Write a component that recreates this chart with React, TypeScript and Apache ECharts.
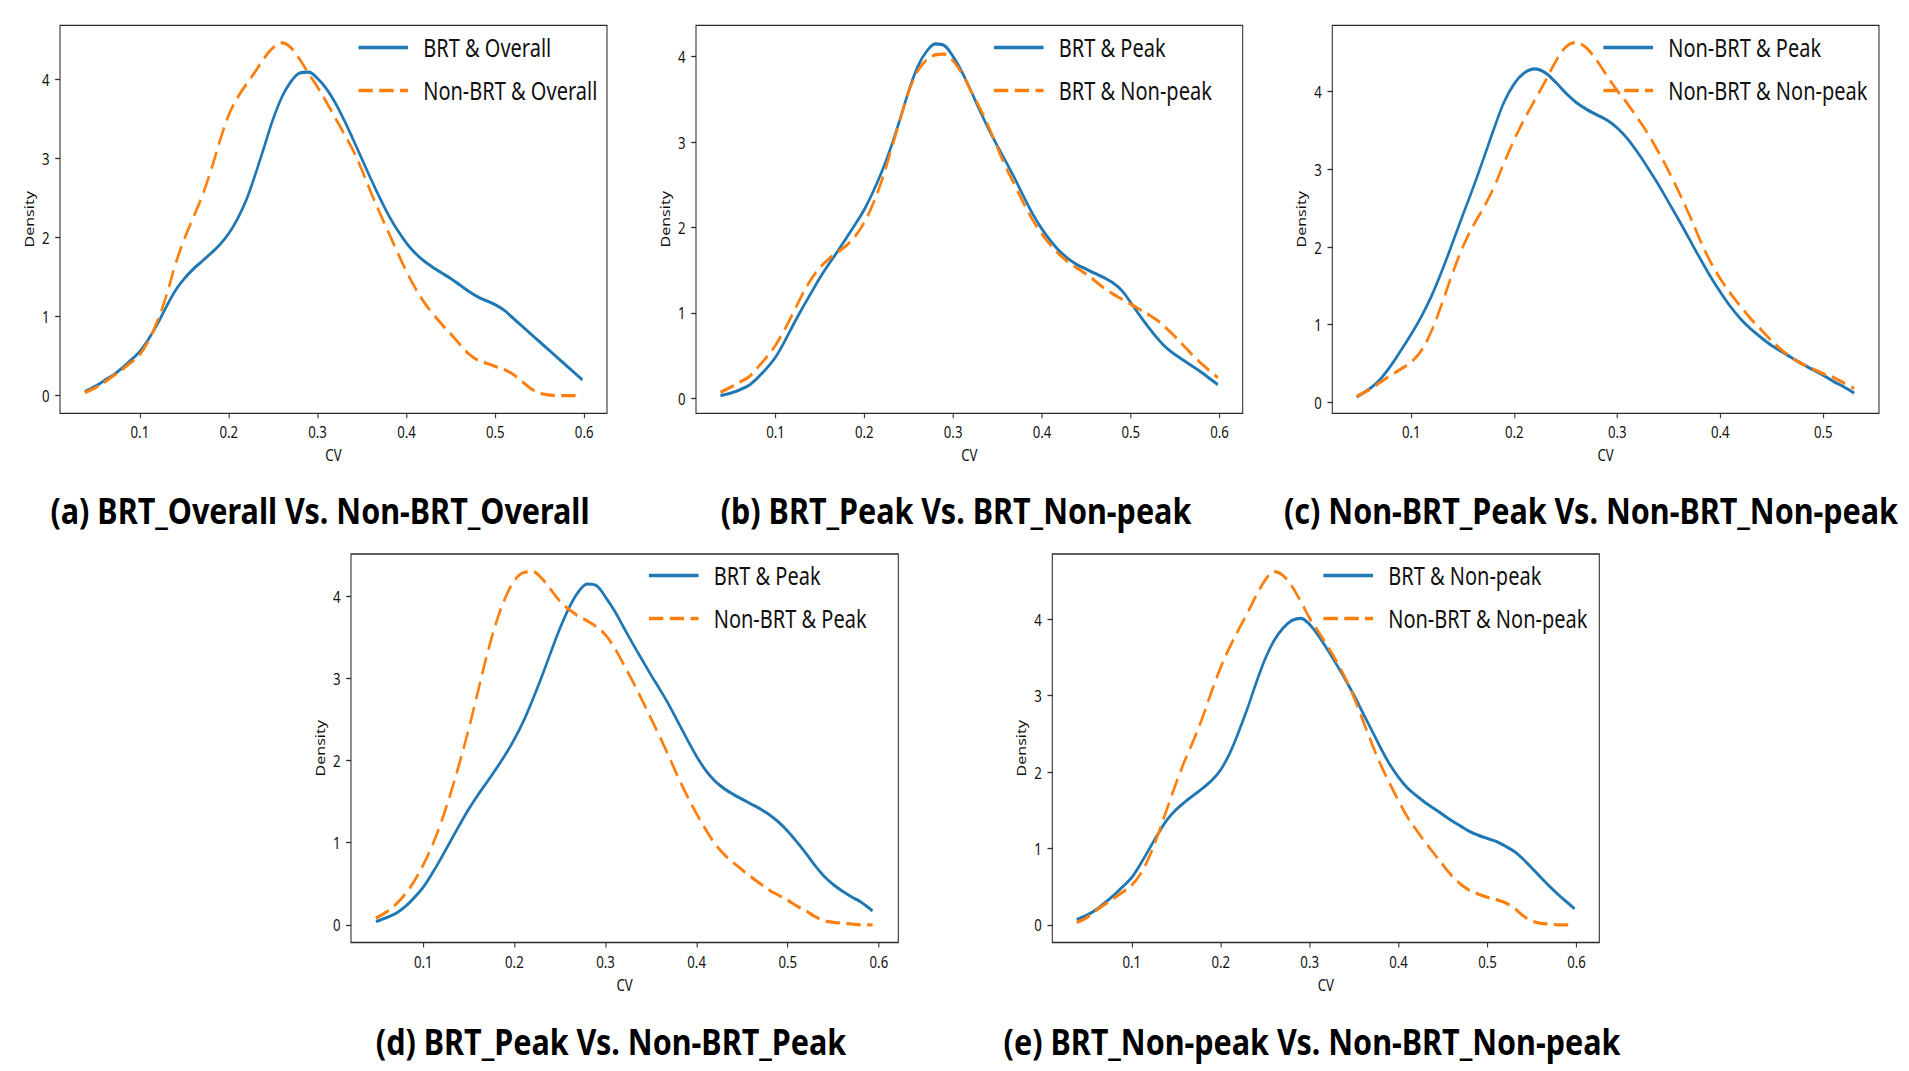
import React, { useEffect, useRef } from "react";
import * as echarts from "echarts";

// ---------- data ----------
const X_ABE = [0.038, 0.05, 0.06, 0.07, 0.08, 0.09, 0.1, 0.11, 0.12, 0.13, 0.14, 0.15, 0.16, 0.17, 0.18, 0.19, 0.2, 0.21, 0.22, 0.23, 0.24, 0.25, 0.26, 0.27, 0.28, 0.29, 0.3, 0.31, 0.32, 0.33, 0.34, 0.35, 0.36, 0.37, 0.38, 0.39, 0.4, 0.41, 0.42, 0.43, 0.44, 0.45, 0.46, 0.47, 0.48, 0.49, 0.5, 0.51, 0.52, 0.53, 0.54, 0.55, 0.56, 0.57, 0.58, 0.59, 0.598];
const X_C = [0.047, 0.06, 0.07, 0.08, 0.09, 0.1, 0.11, 0.12, 0.13, 0.14, 0.15, 0.16, 0.17, 0.18, 0.19, 0.2, 0.21, 0.22, 0.23, 0.24, 0.25, 0.26, 0.27, 0.28, 0.29, 0.3, 0.31, 0.32, 0.33, 0.34, 0.35, 0.36, 0.37, 0.38, 0.39, 0.4, 0.41, 0.42, 0.43, 0.44, 0.45, 0.46, 0.47, 0.48, 0.49, 0.5, 0.51, 0.52, 0.53];
const X_D = [0.048, 0.06, 0.07, 0.08, 0.09, 0.1, 0.11, 0.12, 0.13, 0.14, 0.15, 0.16, 0.17, 0.18, 0.19, 0.2, 0.21, 0.22, 0.23, 0.24, 0.25, 0.26, 0.27, 0.28, 0.29, 0.3, 0.31, 0.32, 0.33, 0.34, 0.35, 0.36, 0.37, 0.38, 0.39, 0.4, 0.41, 0.42, 0.43, 0.44, 0.45, 0.46, 0.47, 0.48, 0.49, 0.5, 0.51, 0.52, 0.53, 0.54, 0.55, 0.56, 0.57, 0.58, 0.593];

// (a)
const A_BRT_OVERALL = [0.05, 0.12, 0.19, 0.26, 0.35, 0.45, 0.56, 0.72, 0.91, 1.13, 1.33, 1.48, 1.6, 1.7, 1.8, 1.91, 2.05, 2.24, 2.48, 2.8, 3.15, 3.5, 3.78, 3.97, 4.08, 4.09, 4.01, 3.88, 3.7, 3.48, 3.24, 2.99, 2.74, 2.5, 2.28, 2.09, 1.93, 1.8, 1.7, 1.62, 1.55, 1.48, 1.4, 1.32, 1.25, 1.2, 1.15, 1.08, 0.98, 0.88, 0.78, 0.68, 0.58, 0.48, 0.38, 0.28, 0.2];
const A_NONBRT_OVERALL = [0.04, 0.1, 0.17, 0.25, 0.33, 0.42, 0.52, 0.7, 0.95, 1.27, 1.66, 1.98, 2.25, 2.52, 2.85, 3.22, 3.55, 3.77, 3.94, 4.1, 4.27, 4.4, 4.46, 4.4, 4.25, 4.07, 3.9, 3.71, 3.51, 3.31, 3.1, 2.85, 2.57, 2.31, 2.06, 1.81, 1.57, 1.36, 1.18, 1.03, 0.9, 0.78, 0.65, 0.53, 0.45, 0.41, 0.37, 0.33, 0.27, 0.18, 0.09, 0.03, 0.01, 0, 0, 0, 0];
// (b)
const B_BRT_PEAK = [0.03, 0.06, 0.1, 0.15, 0.24, 0.35, 0.48, 0.66, 0.86, 1.05, 1.23, 1.41, 1.57, 1.72, 1.88, 2.04, 2.21, 2.42, 2.66, 2.94, 3.26, 3.6, 3.88, 4.06, 4.15, 4.13, 4.0, 3.82, 3.6, 3.37, 3.15, 2.95, 2.76, 2.56, 2.35, 2.15, 1.98, 1.84, 1.72, 1.63, 1.56, 1.51, 1.46, 1.41, 1.35, 1.26, 1.12, 0.97, 0.83, 0.7, 0.59, 0.51, 0.44, 0.37, 0.3, 0.22, 0.16];
const B_BRT_NONPEAK = [0.07, 0.13, 0.19, 0.25, 0.36, 0.48, 0.62, 0.8, 1.0, 1.21, 1.39, 1.53, 1.63, 1.71, 1.79, 1.9, 2.06, 2.28, 2.56, 2.9, 3.25, 3.59, 3.83, 3.96, 4.02, 4.03, 3.95, 3.8, 3.6, 3.4, 3.18, 2.93, 2.69, 2.48, 2.27, 2.08, 1.92, 1.79, 1.68, 1.59, 1.52, 1.45, 1.37, 1.29, 1.22, 1.16, 1.1, 1.04, 0.98, 0.91, 0.82, 0.72, 0.61, 0.5, 0.4, 0.31, 0.24];
// (c)
const C_NONBRT_PEAK = [0.07, 0.18, 0.3, 0.47, 0.67, 0.88, 1.11, 1.38, 1.7, 2.05, 2.41, 2.76, 3.13, 3.51, 3.86, 4.1, 4.24, 4.29, 4.24, 4.12, 3.98, 3.86, 3.77, 3.7, 3.63, 3.53, 3.39, 3.21, 3.01, 2.8, 2.57, 2.34, 2.1, 1.86, 1.63, 1.42, 1.23, 1.07, 0.94, 0.83, 0.73, 0.65, 0.57, 0.49, 0.42, 0.35, 0.27, 0.2, 0.12];
const C_NONBRT_NONPEAK = [0.08, 0.17, 0.26, 0.35, 0.43, 0.52, 0.67, 0.93, 1.28, 1.66, 2.0, 2.27, 2.5, 2.76, 3.08, 3.38, 3.65, 3.89, 4.13, 4.38, 4.57, 4.63, 4.56, 4.4, 4.2, 4.01, 3.84, 3.65, 3.45, 3.22, 2.97, 2.7, 2.41, 2.1, 1.82, 1.59, 1.4, 1.23, 1.07, 0.93, 0.79, 0.67, 0.57, 0.49, 0.43, 0.37, 0.32, 0.25, 0.18];
// (d)
const D_BRT_PEAK = [0.04, 0.09, 0.14, 0.22, 0.33, 0.46, 0.63, 0.82, 1.02, 1.22, 1.41, 1.58, 1.74, 1.9, 2.07, 2.26, 2.48, 2.74, 3.02, 3.32, 3.61, 3.86, 4.05, 4.15, 4.13, 3.99, 3.82, 3.62, 3.42, 3.23, 3.04, 2.86, 2.67, 2.46, 2.25, 2.05, 1.88, 1.75, 1.66, 1.59, 1.53, 1.47, 1.41, 1.34, 1.25, 1.14, 1.01, 0.87, 0.72, 0.59, 0.49, 0.41, 0.34, 0.28, 0.17];
const D_NONBRT_PEAK = [0.08, 0.16, 0.25, 0.37, 0.53, 0.73, 0.97, 1.26, 1.6, 1.98, 2.39, 2.84, 3.29, 3.68, 3.98, 4.19, 4.29, 4.3, 4.22, 4.08, 3.94, 3.84, 3.76, 3.7, 3.63, 3.53, 3.37, 3.17, 2.96, 2.74, 2.51, 2.28, 2.04, 1.79, 1.56, 1.35, 1.16, 0.99, 0.86, 0.76, 0.67, 0.58, 0.5, 0.42, 0.36, 0.3, 0.23, 0.17, 0.1, 0.05, 0.03, 0.02, 0.01, 0, 0];
// (e)
const E_BRT_NONPEAK = [0.07, 0.13, 0.2, 0.29, 0.39, 0.5, 0.62, 0.8, 1.0, 1.2, 1.38, 1.51, 1.61, 1.7, 1.79, 1.89, 2.03, 2.24, 2.52, 2.83, 3.17, 3.48, 3.72, 3.88, 3.98, 4.01, 3.93, 3.78, 3.6, 3.41, 3.21, 3.0, 2.77, 2.54, 2.31, 2.1, 1.93, 1.79, 1.69, 1.6, 1.52, 1.44, 1.36, 1.29, 1.22, 1.17, 1.13, 1.09, 1.03, 0.96, 0.86, 0.74, 0.62, 0.5, 0.39, 0.29, 0.21];
const E_NONBRT_NONPEAK = [0.03, 0.1, 0.19, 0.27, 0.35, 0.43, 0.52, 0.67, 0.9, 1.2, 1.53, 1.86, 2.16, 2.43, 2.73, 3.06, 3.37, 3.63, 3.86, 4.08, 4.31, 4.51, 4.62, 4.57, 4.43, 4.23, 4.01, 3.83, 3.65, 3.45, 3.23, 2.97, 2.67, 2.37, 2.09, 1.85, 1.62, 1.41, 1.24, 1.08, 0.93, 0.78, 0.64, 0.53, 0.45, 0.4, 0.36, 0.33, 0.29, 0.22, 0.12, 0.05, 0.02, 0.01, 0, 0, 0];

const X_TICKS_06 = [0.1, 0.2, 0.3, 0.4, 0.5, 0.6];
const X_TICKS_05 = [0.1, 0.2, 0.3, 0.4, 0.5];
const Y_TICKS = [0, 1, 2, 3, 4];

const TITLES = [
  "(a) BRT_Overall Vs. Non-BRT_Overall",
  "(b) BRT_Peak Vs. BRT_Non-peak",
  "(c) Non-BRT_Peak Vs. Non-BRT_Non-peak",
  "(d) BRT_Peak Vs. Non-BRT_Peak",
  "(e) BRT_Non-peak Vs. Non-BRT_Non-peak",
];
const NAMES = [
  ["BRT & Overall", "Non-BRT & Overall"],
  ["BRT & Peak", "BRT & Non-peak"],
  ["Non-BRT & Peak", "Non-BRT & Non-peak"],
  ["BRT & Peak", "Non-BRT & Peak"],
  ["BRT & Non-peak", "Non-BRT & Non-peak"],
];

// ---------- layout ----------
const W = 1909;
const H = 1071;
const K = 0.8; // horizontal condensation of the original figure
const VW = Math.round(W / K);
const vx = (x: number) => x / K;

const FONT = "'Noto Sans', 'DejaVu Sans', sans-serif";
const BLUE = "#1f77b4";
const ORANGE = "#ff7f0e";

type Panel = {
  left: number; right: number; top: number; bottom: number;
  xMin: number; xMax: number; yMin: number; yMax: number;
  xTicks: number[]; xs: number[]; blue: number[]; orange: number[];
  legendLeft: number; legendTop: number; titleX: number; titleY: number;
};

const PANELS: Panel[] = [
  { left: 60, right: 607, top: 25.3, bottom: 413.3, xMin: 0.0101, xMax: 0.6257, yMin: -0.223, yMax: 4.683, xTicks: X_TICKS_06, xs: X_ABE, blue: A_BRT_OVERALL, orange: A_NONBRT_OVERALL, legendLeft: 357, legendTop: 35, titleX: 320, titleY: 510 },
  { left: 696, right: 1242.7, top: 25.3, bottom: 413.3, xMin: 0.0105, xMax: 0.626, yMin: -0.177, yMax: 4.367, xTicks: X_TICKS_06, xs: X_ABE, blue: B_BRT_PEAK, orange: B_BRT_NONPEAK, legendLeft: 992.5, legendTop: 35, titleX: 956, titleY: 510 },
  { left: 1332.3, right: 1879, top: 25.3, bottom: 413.3, xMin: 0.0233, xMax: 0.5541, yMin: -0.14, yMax: 4.85, xTicks: X_TICKS_05, xs: X_C, blue: C_NONBRT_PEAK, orange: C_NONBRT_NONPEAK, legendLeft: 1602, legendTop: 35, titleX: 1591, titleY: 510 },
  { left: 351, right: 898.3, top: 554, bottom: 942.5, xMin: 0.0207, xMax: 0.6213, yMin: -0.215, yMax: 4.515, xTicks: X_TICKS_06, xs: X_D, blue: D_BRT_PEAK, orange: D_NONBRT_PEAK, legendLeft: 647.5, legendTop: 563, titleX: 611, titleY: 1041 },
  { left: 1052.3, right: 1599.3, top: 554, bottom: 942.5, xMin: 0.0106, xMax: 0.6257, yMin: -0.231, yMax: 4.851, xTicks: X_TICKS_06, xs: X_ABE, blue: E_BRT_NONPEAK, orange: E_NONBRT_NONPEAK, legendLeft: 1322, legendTop: 563, titleX: 1312, titleY: 1041 },
];

const SUFFIX = ["#a", "#b", "#c", "#d", "#e"];

function buildOption() {
  const grid: any[] = [];
  const xAxis: any[] = [];
  const yAxis: any[] = [];
  const series: any[] = [];
  const legend: any[] = [];
  const graphic: any[] = [];

  PANELS.forEach((p, i) => {
    grid.push({
      left: vx(p.left),
      top: p.top,
      width: vx(p.right - p.left),
      height: p.bottom - p.top,
      show: true,
      borderColor: "#2a2a2a",
      borderWidth: 1.3,
      backgroundColor: "transparent",
    });
    xAxis.push({
      type: "value",
      gridIndex: i,
      position: "bottom",
      min: p.xMin,
      max: p.xMax,
      name: "CV",
      nameLocation: "middle",
      nameGap: 33,
      nameTextStyle: { fontFamily: FONT, fontSize: 16.5, color: "#111" },
      axisLine: { show: false, onZero: false },
      splitLine: { show: false },
      axisTick: { show: true, inside: false, length: 5, lineStyle: { color: "#2a2a2a", width: 1.3 }, customValues: p.xTicks },
      axisLabel: {
        fontFamily: FONT, fontSize: 16.5, color: "#111", margin: 10,
        customValues: p.xTicks,
        formatter: (v: number) => Number(v).toFixed(1),
      },
    });
    yAxis.push({
      type: "value",
      gridIndex: i,
      position: "left",
      min: p.yMin,
      max: p.yMax,
      name: "Density",
      nameLocation: "middle",
      nameGap: 31,
      nameTextStyle: { fontFamily: FONT, fontSize: 16, color: "#111" },
      axisLine: { show: false, onZero: false },
      splitLine: { show: false },
      axisTick: { show: true, inside: false, length: 6, lineStyle: { color: "#2a2a2a", width: 1.3 }, customValues: Y_TICKS },
      axisLabel: {
        fontFamily: FONT, fontSize: 16.5, color: "#111", margin: 13,
        customValues: Y_TICKS,
        formatter: (v: number) => String(Math.round(v)),
      },
    });
    const n1 = NAMES[i][0] + SUFFIX[i];
    const n2 = NAMES[i][1] + SUFFIX[i];
    series.push({
      type: "line",
      name: n1,
      xAxisIndex: i,
      yAxisIndex: i,
      data: p.xs.map((x, j) => [x, p.blue[j]]),
      symbol: "none",
      smooth: 0.35,
      lineStyle: { color: BLUE, width: 3.2, type: "solid" },
      itemStyle: { color: BLUE },
      z: 2,
    });
    series.push({
      type: "line",
      name: n2,
      xAxisIndex: i,
      yAxisIndex: i,
      data: p.xs.map((x, j) => [x, p.orange[j]]),
      symbol: "none",
      smooth: 0.35,
      lineStyle: { color: ORANGE, width: 3.2, type: [18, 8] },
      itemStyle: { color: ORANGE },
      z: 3,
    });
    legend.push({
      data: [n1, n2],
      orient: "vertical",
      left: vx(p.legendLeft),
      top: p.legendTop,
      itemWidth: 62,
      itemHeight: 14,
      itemGap: 18,
      selectedMode: false,
      padding: 0,
      itemStyle: { opacity: 0, borderWidth: 0 },
      lineStyle: { width: 3.6 },
      formatter: (name: string) => name.split("#")[0],
      textStyle: { fontFamily: FONT, fontSize: 25, color: "#111", padding: [0, 0, 0, 14] },
    });
    graphic.push({
      type: "text",
      x: vx(p.titleX),
      y: p.titleY,
      scaleX: 1.06,
      style: {
        text: TITLES[i],
        fontFamily: FONT,
        fontSize: 36,
        fontWeight: "bold",
        fill: "#000",
        textAlign: "center",
        textVerticalAlign: "middle",
      },
    });
  });

  return {
    animation: false,
    backgroundColor: "#ffffff",
    grid,
    xAxis,
    yAxis,
    series,
    legend,
    graphic,
  };
}

export default function App() {
  const ref = useRef<HTMLDivElement>(null);
  useEffect(() => {
    document.body.style.margin = "0";
    document.body.style.overflow = "hidden";
    if (!ref.current) return;
    const chart = echarts.init(ref.current, undefined, { renderer: "svg", width: VW, height: H });
    chart.setOption(buildOption());
    return () => chart.dispose();
  }, []);
  return (
    <div style={{ position: "fixed", left: 0, top: 0, width: W, height: H, overflow: "hidden", background: "#fff" }}>
      <div
        ref={ref}
        style={{ width: VW, height: H, transform: `scaleX(${K})`, transformOrigin: "0 0" }}
      />
    </div>
  );
}
